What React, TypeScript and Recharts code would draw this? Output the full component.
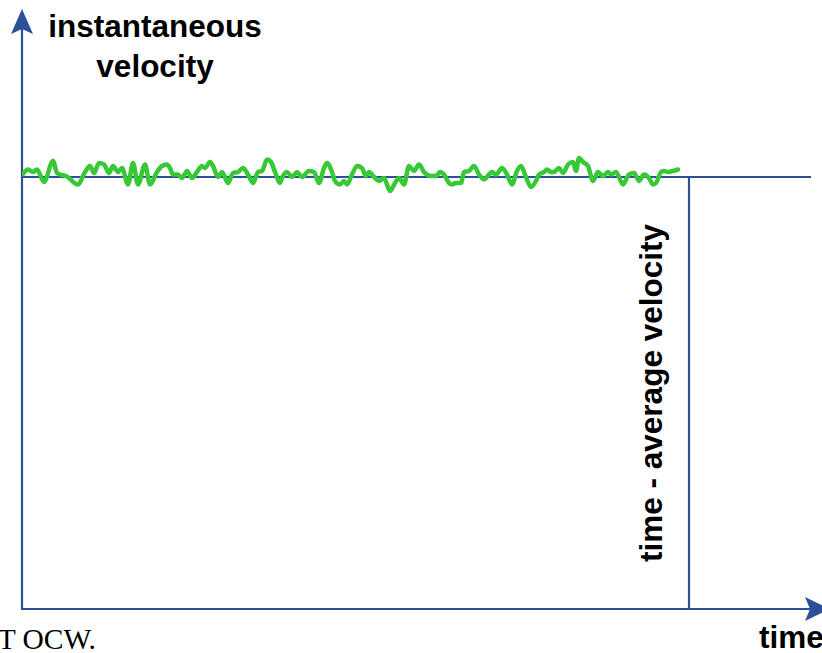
import React from "react";
import { LineChart, Line, XAxis, YAxis, ReferenceLine, ReferenceDot } from "recharts";

// time samples (arbitrary time units) and instantaneous velocity readings
const times = [
  1, 6, 11, 15, 22, 31, 35, 38, 44, 56, 63, 68, 72, 77, 82, 87, 91, 96, 100, 106,
  111, 116, 123, 128, 135, 140, 145, 148, 151, 156, 160, 165, 170, 175, 180, 183, 188, 191, 196, 200,
  206, 211, 216, 221, 226, 231, 236, 240, 245, 249, 253, 258, 260, 265, 270, 275, 280, 287, 292, 297,
  302, 305, 310, 313, 318, 322, 325, 330, 335, 340, 344, 347, 352, 357, 362, 368, 373, 377, 382, 387,
  392, 397, 402, 409, 414, 418, 422, 427, 430, 434, 439, 442, 447, 452, 457, 462, 467, 470, 474, 480,
  485, 490, 495, 499, 504, 509, 514, 517, 522, 525, 529, 532, 537, 541, 546, 551, 554, 557, 561, 566,
  571, 576, 581, 586, 589, 594, 601, 607, 612, 617, 622, 627, 631, 634, 639, 642, 646, 651, 656,
];
const velocities = [
  435, 439.5, 437, 439.5, 427, 448, 436, 434.5, 433, 424.5, 437, 443, 436, 446, 444.5, 436, 443, 437, 441, 424.5,
  446, 424.5, 444.5, 424.5, 437, 443, 444.5, 441, 434.5, 434.5, 431, 438, 431, 437, 443, 441, 447, 443, 432, 437,
  426, 436, 437, 441, 434.5, 426, 437, 438, 449.5, 447, 437, 426, 431, 437, 432, 437, 432, 438, 437, 426,
  441, 446, 437, 428, 424.5, 428, 424.5, 434.5, 443, 441, 433, 437, 432, 428, 431, 418, 426, 431, 424.5, 443,
  438, 444.5, 437, 433, 433, 437, 434.5, 426, 424.5, 426, 426, 437, 438, 443, 434.5, 429.5, 434.5, 437, 434.5, 441,
  434.5, 424.5, 438, 443, 432, 422, 428, 434.5, 437, 439.5, 437, 437, 441, 436, 444.5, 447, 438, 451, 447, 443,
  428, 437, 433, 437, 434.5, 437, 424.5, 434.5, 436, 428, 434.5, 431, 424.5, 426, 437, 438, 437, 438, 439.5,
];

const averageVelocity = 432;
const averageWindowEnd = 667; // time at which averaging window ends
const averageLineEnd = 789;
const timeMax = 800;
const velocityMax = 600;
const xArrowTip = 808;

const yAxisLabel = ["instantaneous", "velocity"];
const xAxisLabel = "time";
const averageLabel = "time - average velocity";
const creditText = "Image by MIT OCW.";

const data = times.map((t, i) => ({ t, v: velocities[i] }));

const BLUE = "#2d4f97";
const GREEN = "#36c935";
const SANS = "'Liberation Sans', Arial, Helvetica, sans-serif";

const UpArrow = (props: any) => {
  const { cx, cy } = props;
  return (
    <path
      d={`M ${cx} ${cy} L ${cx + 11} ${cy + 25} L ${cx} ${cy + 20} L ${cx - 11} ${cy + 25} Z`}
      fill={BLUE}
    />
  );
};

const RightArrow = (props: any) => {
  const { cx, cy } = props;
  return (
    <path
      d={`M ${cx} ${cy} L ${cx - 25} ${cy - 12} L ${cx - 20} ${cy} L ${cx - 25} ${cy + 12} Z`}
      fill={BLUE}
    />
  );
};

export default function App() {
  return (
    <div style={{ position: "absolute", left: 0, top: 0, width: 822, height: 653, background: "#fff" }}>
      <LineChart
        width={822}
        height={653}
        data={data}
        margin={{ top: 9, right: 0, bottom: 44, left: 22 }}
      >
        <XAxis dataKey="t" type="number" domain={[0, timeMax]} hide allowDataOverflow />
        <YAxis type="number" domain={[0, velocityMax]} hide allowDataOverflow />
        <ReferenceLine
          segment={[{ x: 0, y: 0 }, { x: 0, y: velocityMax - 20 }]}
          stroke={BLUE}
          strokeWidth={2.2}
          ifOverflow="visible"
        />
        <ReferenceLine
          segment={[{ x: -1, y: 0 }, { x: xArrowTip - 20, y: 0 }]}
          stroke={BLUE}
          strokeWidth={2.2}
          ifOverflow="visible"
        />
        <ReferenceLine
          segment={[{ x: 0, y: averageVelocity }, { x: averageLineEnd, y: averageVelocity }]}
          stroke={BLUE}
          strokeWidth={2.2}
          ifOverflow="visible"
        />
        <ReferenceLine
          segment={[{ x: averageWindowEnd, y: 0 }, { x: averageWindowEnd, y: averageVelocity }]}
          stroke={BLUE}
          strokeWidth={2.2}
          ifOverflow="visible"
        />
        <ReferenceDot x={0} y={velocityMax} r={0} shape={UpArrow} ifOverflow="visible" />
        <ReferenceDot x={xArrowTip} y={0} r={0} shape={RightArrow} ifOverflow="visible" />
        <Line
          dataKey="v"
          type="monotone"
          stroke={GREEN}
          strokeWidth={4.5}
          strokeLinecap="round"
          strokeLinejoin="round"
          dot={false}
          isAnimationActive={false}
        />
      </LineChart>
      <svg
        width={822}
        height={653}
        style={{ position: "absolute", left: 0, top: 0, pointerEvents: "none" }}
      >
        <text x={155} y={37} textAnchor="middle" fontFamily={SANS} fontWeight="bold" fontSize={31.5} fill="#000">
          {yAxisLabel[0]}
        </text>
        <text x={155} y={77} textAnchor="middle" fontFamily={SANS} fontWeight="bold" fontSize={31.5} fill="#000">
          {yAxisLabel[1]}
        </text>
        <text
          x={0}
          y={0}
          transform="translate(662,393) rotate(-90)"
          textAnchor="middle"
          fontFamily={SANS}
          fontWeight="bold"
          fontSize={31.5}
          fill="#000"
        >
          {averageLabel}
        </text>
        <text x={759} y={648} fontFamily={SANS} fontWeight="bold" fontSize={31.5} fill="#000">
          {xAxisLabel}
        </text>
        <text
          x={96}
          y={649}
          textAnchor="end"
          fontFamily="'Liberation Serif', 'Times New Roman', serif"
          fontSize={29.5}
          fill="#000"
        >
          {creditText}
        </text>
      </svg>
    </div>
  );
}
